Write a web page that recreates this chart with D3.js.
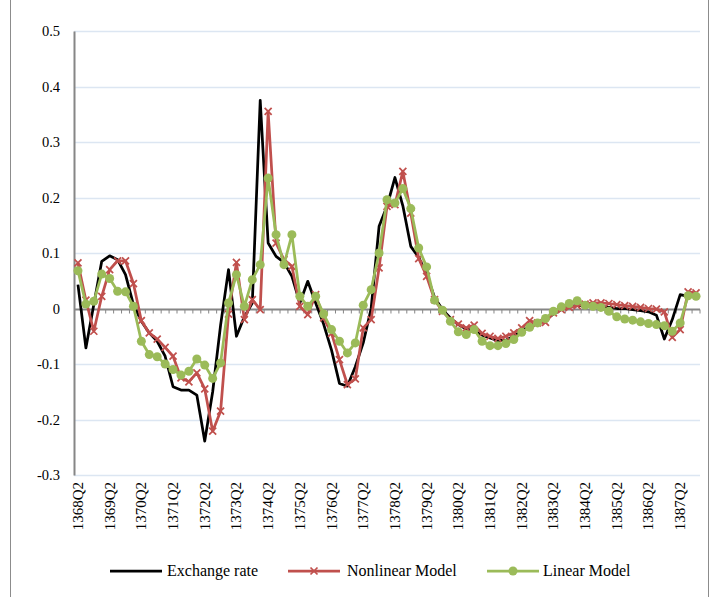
<!DOCTYPE html>
<html>
<head>
<meta charset="utf-8">
<style>
  body { margin: 0; background: #fff; }
  svg text { font-family: "Liberation Serif", "Times New Roman", serif; fill: #000; }
</style>
</head>
<body>
<div id="chart"></div>
<script src="https://d3js.org/d3.v7.min.js"></script>
<script>
// quarters 1368Q2 .. 1387Q4
const quarters = [];
for (let y = 1368; y <= 1387; y++) {
    for (let q = 1; q <= 4; q++) {
        if (y === 1368 && q < 2) continue;
        quarters.push(y + 'Q' + q);
    }
}
const tickLabels = quarters.filter((d, i) => i % 4 === 0);

const exchangeRate = [
    0.043, -0.071, 0.007, 0.085, 0.095, 0.088, 0.061, 0.007, -0.023, -0.044,
    -0.059, -0.086, -0.141, -0.147, -0.147, -0.156, -0.239, -0.15, -0.03, 0.07,
    -0.05, -0.015, 0.01, 0.375, 0.118, 0.094, 0.083, 0.058, 0.01, 0.049,
    0.01, -0.028, -0.075, -0.135, -0.14, -0.105, -0.062, 0.0, 0.148, 0.184,
    0.236, 0.185, 0.112, 0.092, 0.062, 0.02, -0.002, -0.017, -0.029, -0.037,
    -0.04, -0.048, -0.053, -0.058, -0.057, -0.05, -0.04, -0.032, -0.028, -0.02,
    -0.01, -0.002, 0.004, 0.005, 0.005, 0.005, 0.004, 0.002, 0.0, 0.0,
    -0.002, -0.004, -0.006, -0.012, -0.055, -0.02, 0.025, 0.022, 0.021
];
const nonlinearModel = [
    0.082, 0.015, -0.041, 0.022, 0.07, 0.086, 0.086, 0.045, -0.022, -0.044,
    -0.055, -0.07, -0.086, -0.125, -0.132, -0.116, -0.145, -0.221, -0.185, -0.01,
    0.083, -0.02, 0.016, -0.002, 0.355, 0.118, 0.088, 0.076, 0.004, -0.011,
    0.025, -0.017, -0.045, -0.092, -0.137, -0.127, -0.035, -0.02, 0.073, 0.184,
    0.187, 0.247, 0.172, 0.09, 0.058, 0.016, -0.005, -0.02, -0.028, -0.035,
    -0.03, -0.045, -0.05, -0.054, -0.05, -0.044, -0.035, -0.022, -0.026, -0.025,
    -0.008, -0.002, 0.002, 0.005, 0.008, 0.01, 0.01, 0.009, 0.007, 0.005,
    0.004, 0.002, 0.0, -0.001, -0.006, -0.052, -0.038, 0.03, 0.028
];
const linearModel = [
    0.068, 0.008, 0.013, 0.062, 0.054, 0.031, 0.03, 0.004, -0.059, -0.083,
    -0.087, -0.1, -0.11, -0.12, -0.113, -0.091, -0.102, -0.126, -0.098, 0.01,
    0.061, 0.004, 0.052, 0.079, 0.235, 0.133, 0.079, 0.133, 0.022, 0.004,
    0.022, -0.01, -0.038, -0.059, -0.08, -0.062, 0.006, 0.034, 0.1, 0.196,
    0.19, 0.216, 0.18, 0.109, 0.075, 0.015, -0.003, -0.023, -0.042, -0.047,
    -0.038, -0.059, -0.067, -0.067, -0.063, -0.056, -0.043, -0.034, -0.026, -0.018,
    -0.005, 0.003, 0.009, 0.014, 0.006, 0.004, 0.002, -0.005, -0.015, -0.019,
    -0.021, -0.024, -0.027, -0.029, -0.031, -0.041, -0.026, 0.023, 0.022
];
const yTicks = [-0.3, -0.2, -0.1, 0, 0.1, 0.2, 0.3, 0.4, 0.5];

const series = [
    { name: 'Exchange rate', values: exchangeRate, color: '#000000', marker: 'none' },
    { name: 'Nonlinear Model', values: nonlinearModel, color: '#c0504d', marker: 'x' },
    { name: 'Linear Model', values: linearModel, color: '#9bbb59', marker: 'circle' }
];

const width = 710;
const height = 597;
const plotLeft = 74;
const plotRight = 700;
const plotTop = 31;
const plotBottom = 475;

const svg = d3.select('#chart')
    .append('svg')
    .attr('width', width)
    .attr('height', height);

// chart frame
svg.append('rect')
    .attr('x', 10.5)
    .attr('y', -2)
    .attr('width', 698)
    .attr('height', height + 4)
    .attr('fill', 'none')
    .attr('stroke', '#8c8c8c')
    .attr('stroke-width', 1);

const x = d3.scaleBand()
    .domain(quarters)
    .range([plotLeft, plotRight])
    .padding(0);

const y = d3.scaleLinear()
    .domain([-0.3, 0.5])
    .range([plotBottom, plotTop]);

const cx = d => x(d) + x.bandwidth() / 2;

// gridlines
svg.append('g')
    .selectAll('line')
    .data(yTicks.filter(d => d !== 0))
    .enter()
    .append('line')
    .attr('x1', plotLeft)
    .attr('x2', plotRight)
    .attr('y1', d => Math.round(y(d)) + 0.5)
    .attr('y2', d => Math.round(y(d)) + 0.5)
    .attr('stroke', '#dce6f2')
    .attr('stroke-width', 1.5);

// y axis
const yAxis = svg.append('g')
    .attr('transform', `translate(${plotLeft}, 0)`)
    .call(d3.axisLeft(y).tickValues(yTicks).tickSize(0).tickPadding(14).tickFormat(d => String(+d.toFixed(1))));
yAxis.select('.domain').attr('stroke', '#868686').attr('stroke-width', 2);
yAxis.selectAll('text').style('font-size', '14.5px').attr('fill', '#000');

// category axis crossing at zero
const xAxis = svg.append('g')
    .attr('transform', `translate(0, ${Math.round(y(0)) + 0.5})`);
xAxis.append('line')
    .attr('x1', plotLeft)
    .attr('x2', plotRight)
    .attr('stroke', '#868686')
    .attr('stroke-width', 2);
xAxis.selectAll('.tick')
    .data(quarters)
    .enter()
    .append('line')
    .attr('x1', d => x(d) + x.bandwidth())
    .attr('x2', d => x(d) + x.bandwidth())
    .attr('y1', 0)
    .attr('y2', 4)
    .attr('stroke', '#868686')
    .attr('stroke-width', 1);

// x labels at bottom
svg.append('g')
    .selectAll('text')
    .data(tickLabels)
    .enter()
    .append('text')
    .attr('transform', d => `translate(${cx(d) + 5}, ${plotBottom + 7}) rotate(-90)`)
    .attr('text-anchor', 'end')
    .style('font-size', '15px')
    .text(d => d);

const line = d3.line()
    .x((d, i) => cx(quarters[i]))
    .y(d => y(d));

series.forEach(s => {
    const g = svg.append('g');
    g.append('path')
        .datum(s.values)
        .attr('d', line)
        .attr('fill', 'none')
        .attr('stroke', s.color)
        .attr('stroke-width', 2.75)
        .attr('stroke-linejoin', 'round');
    if (s.marker === 'x') {
        g.selectAll('path.mk')
            .data(s.values)
            .enter()
            .append('path')
            .attr('class', 'mk')
            .attr('d', (d, i) => {
                const px = cx(quarters[i]), py = y(d), r = 3.5;
                return `M${px - r},${py - r}L${px + r},${py + r}M${px - r},${py + r}L${px + r},${py - r}`;
            })
            .attr('stroke', s.color)
            .attr('stroke-width', 1.75);
    }
    if (s.marker === 'circle') {
        g.selectAll('circle')
            .data(s.values)
            .enter()
            .append('circle')
            .attr('cx', (d, i) => cx(quarters[i]))
            .attr('cy', d => y(d))
            .attr('r', 4.5)
            .attr('fill', s.color);
    }
});

// legend
const legendItems = [
    { s: series[0], x: 110, tx: 167 },
    { s: series[1], x: 288, tx: 347 },
    { s: series[2], x: 487, tx: 543 }
];
const legend = svg.append('g').attr('transform', 'translate(0, 571)');
legendItems.forEach(l => {
    legend.append('line')
        .attr('x1', l.x)
        .attr('x2', l.x + 52)
        .attr('stroke', l.s.color)
        .attr('stroke-width', 2.75);
    if (l.s.marker === 'x') {
        const px = l.x + 26, r = 3.5;
        legend.append('path')
            .attr('d', `M${px - r},${-r}L${px + r},${r}M${px - r},${r}L${px + r},${-r}`)
            .attr('stroke', l.s.color)
            .attr('stroke-width', 1.75);
    }
    if (l.s.marker === 'circle') {
        legend.append('circle')
            .attr('cx', l.x + 26)
            .attr('cy', 0)
            .attr('r', 4.5)
            .attr('fill', l.s.color);
    }
    legend.append('text')
        .attr('x', l.tx)
        .attr('y', 5)
        .style('font-size', '16px')
        .text(l.s.name);
});
</script>
</body>
</html>
